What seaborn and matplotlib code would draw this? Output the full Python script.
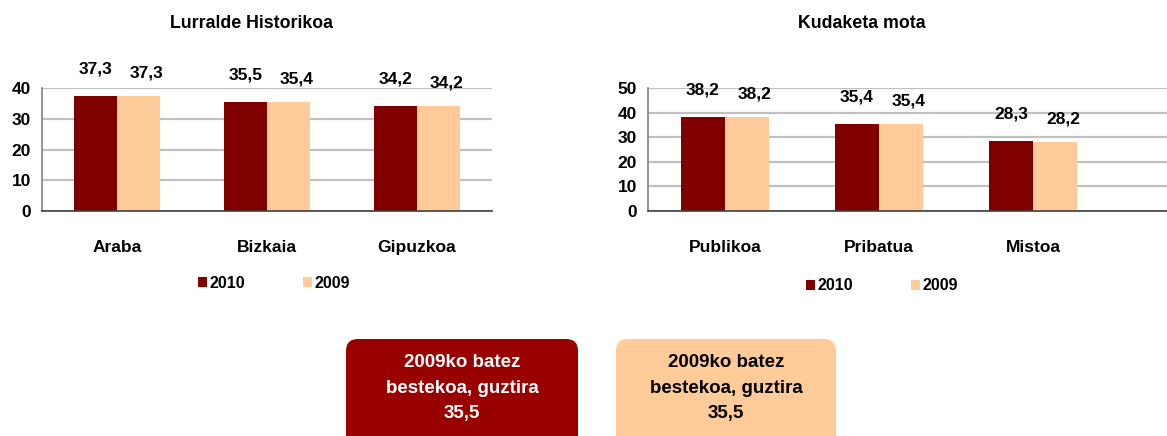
import seaborn as sns
import matplotlib.pyplot as plt
import pandas as pd
import numpy as np
from matplotlib.patches import FancyBboxPatch
from matplotlib.transforms import IdentityTransform

# Data
years = ["2010", "2009"]
territories = ["Araba", "Bizkaia", "Gipuzkoa"]
territory_2010 = [37.3, 35.5, 34.2]
territory_2009 = [37.3, 35.4, 34.2]

management = ["Publikoa", "Pribatua", "Mistoa"]
management_2010 = [38.2, 35.4, 28.3]
management_2009 = [38.2, 35.4, 28.2]

average_2009 = 35.5
box_label = "2009ko batez\nbestekoa, guztira\n{}"

colors = {"2010": "#800000", "2009": "#FFCC99"}


def to_long(cats, v2010, v2009):
    return pd.DataFrame({
        "cat": cats * 2,
        "year": ["2010"] * len(cats) + ["2009"] * len(cats),
        "value": list(v2010) + list(v2009),
    })


def fmt(v):
    return f"{v:.1f}".replace(".", ",")


sns.set_style("white")
plt.rcParams["font.family"] = ["Liberation Sans", "DejaVu Sans"]
plt.rcParams["font.weight"] = "bold"
plt.rcParams["text.color"] = "black"
plt.rcParams["xtick.color"] = "black"
plt.rcParams["ytick.color"] = "black"
plt.rcParams["xtick.labelcolor"] = "black"
plt.rcParams["ytick.labelcolor"] = "black"

W, H = 1167, 436
fig = plt.figure(figsize=(W / 100, H / 100), dpi=100)


def px_axes(x0, x1, ytop, ybot):
    return fig.add_axes([x0 / W, 1 - ybot / H, (x1 - x0) / W, (ybot - ytop) / H])


def draw_panel(ax, df, ymax, xmax, title, title_x, legend_x, legend_y):
    sns.barplot(data=df, x="cat", y="value", hue="year", hue_order=years,
                palette=colors, width=0.57, gap=0, saturation=1,
                edgecolor="none", ax=ax)
    ax.set_ylim(0, ymax)
    ax.set_xlim(-0.5, xmax)
    ax.set_yticks(np.arange(0, ymax + 1, 10))
    ax.yaxis.grid(True, color="#C0C0C0", linewidth=1.6)
    ax.set_axisbelow(True)
    for s in ["top", "right"]:
        ax.spines[s].set_visible(False)
    ax.spines["left"].set_color("#808080")
    ax.spines["bottom"].set_color("#404040")
    ax.spines["left"].set_linewidth(1.2)
    ax.spines["bottom"].set_linewidth(1.2)
    ax.tick_params(axis="y", length=5, color="#808080", labelsize=12.5, pad=3)
    ax.tick_params(axis="x", length=0, labelsize=12.5, pad=21)
    ax.set_xticks([-0.5, 0.5, 1.5, 2.5], minor=True)
    ax.tick_params(axis="x", which="minor", length=5, color="#404040",
                   direction="out")
    for lab in ax.get_xticklabels() + ax.get_yticklabels():
        lab.set_fontweight("bold")
    ax.set_xlabel("")
    ax.set_ylabel("")

    # value labels above bars
    for i, cont in enumerate(ax.containers):
        for bar in cont:
            h = bar.get_height()
            xc = bar.get_x() + bar.get_width() / 2
            off = (0, 27) if i == 0 else (8, 23)
            ax.annotate(fmt(h), (xc, h), xytext=off, textcoords="offset pixels",
                        ha="center", va="center", fontsize=12.5,
                        fontweight="bold", annotation_clip=False)

    handles, labels = ax.get_legend_handles_labels()
    ax.legend(handles, labels, loc="center", ncol=2, frameon=False,
              bbox_to_anchor=(legend_x / W, 1 - legend_y / H),
              bbox_transform=fig.transFigure,
              handlelength=0.6, handleheight=0.6, handletextpad=0.15,
              columnspacing=3.6, prop={"weight": "bold", "size": 11.5})
    fig.text(title_x / W, 1 - 23 / H, title, ha="center", va="center",
             fontsize=12.8, fontweight="bold")


ax1 = px_axes(42, 492, 88, 211)
draw_panel(ax1, to_long(territories, territory_2010, territory_2009),
           40, 2.5, "Lurralde Historikoa", 251, 274, 283)

ax2 = px_axes(648, W, 88, 211)
draw_panel(ax2, to_long(management, management_2010, management_2009),
           50, -0.5 + (W - 648) / 154, "Kudaketa mota", 862, 882, 286)

# summary boxes at the bottom
for x0, x1, face, tcol in [(346, 578, "#990000", "white"),
                           (616, 836, "#FFCC99", "black")]:
    box = FancyBboxPatch((x0, -20), x1 - x0, H - 339 + 20,
                         boxstyle="round,pad=0,rounding_size=12",
                         transform=IdentityTransform(), facecolor=face,
                         edgecolor="none")
    fig.patches.append(box)
    fig.text((x0 + x1) / 2 / W, 1 - 388 / H, box_label.format(fmt(average_2009)),
             ha="center", va="center", fontsize=13.5, fontweight="bold",
             color=tcol, linespacing=1.65)

fig.savefig("out.png", dpi=100)
plt.close(fig)
